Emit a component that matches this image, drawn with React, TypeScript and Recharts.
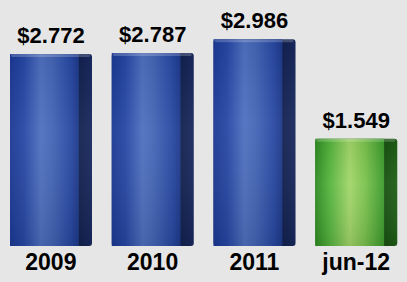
import React from 'react';
import { BarChart, Bar, XAxis, YAxis, Cell, LabelList } from 'recharts';

const periods = ['2009', '2010', '2011', 'jun-12'];
const amounts = [2.772, 2.787, 2.986, 1.549];

const data = periods.map((period, i) => ({ period, amount: amounts[i] }));

const FONT = '"Liberation Sans", Arial, sans-serif';

// 3D-ish column: lit front face + dark right side
const Column = (props: any) => {
  const { x, y, width, height, fill } = props;
  if (!height || height <= 0) return null;
  const theme = fill === 'green' ? 'g' : 'b';
  const front = width * 0.84;
  return (
    <g>
      <rect x={x} y={y} width={width} height={height} rx={3} fill={`url(#${theme}Side)`} />
      <rect x={x} y={y} width={front} height={height} fill={`url(#${theme}Front)`} />
      <rect x={x} y={y} width={width} height={height} fill="url(#shade)" />
      <rect x={x + 1} y={y} width={width - 3} height={3} rx={1.5} fill="#ffffff" opacity={0.2} />
    </g>
  );
};

const App: React.FC = () => {
  return (
    <div style={{ position: 'absolute', left: 0, top: 0, width: 407, height: 282, background: '#e6e6e6' }}>
      <BarChart width={407} height={282} data={data} margin={{ top: 30, right: 0, left: 0, bottom: 6 }} barSize={82}>
        <defs>
          <linearGradient id="bFront" x1="0" y1="0" x2="1" y2="0">
            <stop offset="0%" stopColor="#1b3994" />
            <stop offset="20%" stopColor="#2747a4" />
            <stop offset="45%" stopColor="#4f70bf" />
            <stop offset="60%" stopColor="#4566b6" />
            <stop offset="88%" stopColor="#2848a2" />
            <stop offset="100%" stopColor="#1c3888" />
          </linearGradient>
          <linearGradient id="bSide" x1="0" y1="0" x2="1" y2="0">
            <stop offset="0%" stopColor="#1c327c" />
            <stop offset="20%" stopColor="#132660" />
            <stop offset="60%" stopColor="#0b1536" />
            <stop offset="100%" stopColor="#17285e" />
          </linearGradient>
          <linearGradient id="gFront" x1="0" y1="0" x2="1" y2="0">
            <stop offset="0%" stopColor="#2f8a22" />
            <stop offset="20%" stopColor="#52b23c" />
            <stop offset="50%" stopColor="#a2d569" />
            <stop offset="72%" stopColor="#7bc24e" />
            <stop offset="100%" stopColor="#3b9a2c" />
          </linearGradient>
          <linearGradient id="gSide" x1="0" y1="0" x2="1" y2="0">
            <stop offset="0%" stopColor="#2a7a1e" />
            <stop offset="20%" stopColor="#1d5e14" />
            <stop offset="60%" stopColor="#0f3a0c" />
            <stop offset="100%" stopColor="#1f5e16" />
          </linearGradient>
          <linearGradient id="shade" x1="0" y1="0" x2="0" y2="1">
            <stop offset="0%" stopColor="#000000" stopOpacity={0.05} />
            <stop offset="40%" stopColor="#ffffff" stopOpacity={0.05} />
            <stop offset="100%" stopColor="#000000" stopOpacity={0.1} />
          </linearGradient>
        </defs>
        <XAxis
          dataKey="period"
          axisLine={false}
          tickLine={false}
          height={30}
          interval={0}
          tick={{ fill: '#000', fontSize: 23, fontWeight: 700, fontFamily: FONT }}
        />
        <YAxis hide domain={[0, 3.12]} />
        <Bar dataKey="amount" shape={<Column />} isAnimationActive={false}>
          {data.map((d, i) => (
            <Cell key={d.period} fill={i === data.length - 1 ? 'green' : 'blue'} />
          ))}
          <LabelList
            dataKey="amount"
            position="top"
            offset={11}
            formatter={(v: any) => `$${Number(v).toFixed(3)}`}
            style={{ fill: '#000', fontSize: 22, fontWeight: 700, fontFamily: FONT }}
          />
        </Bar>
      </BarChart>
    </div>
  );
};

export default App;
